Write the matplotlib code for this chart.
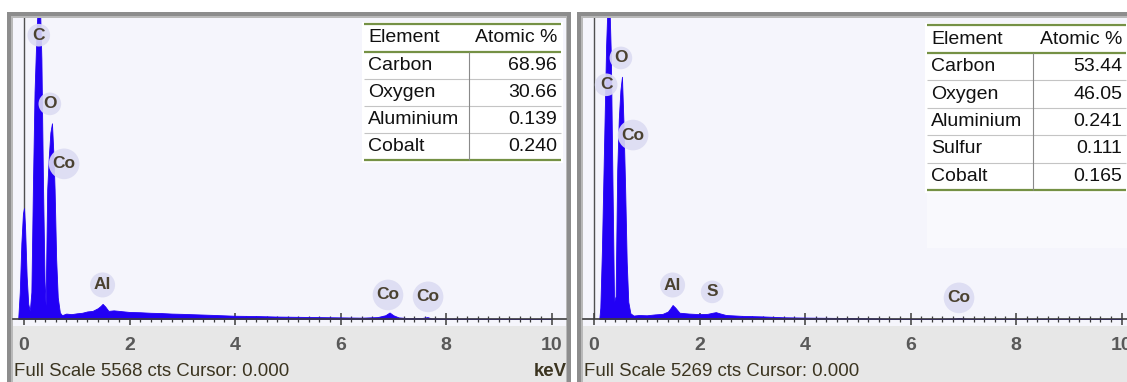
import matplotlib
matplotlib.use("Agg")
import matplotlib.pyplot as plt
from matplotlib.patches import Rectangle
from matplotlib.lines import Line2D

# ---------------- data ----------------
# Spectrum 1 (Full Scale 5568 cts): energy in keV, counts
energy_1 = [-0.11, -0.08, -0.05, -0.02, 0.00, 0.02, 0.05, 0.08, 0.11,
            0.14, 0.17, 0.20, 0.24, 0.27, 0.30, 0.33, 0.36, 0.39, 0.41,
            0.44, 0.47, 0.50, 0.53, 0.56, 0.58, 0.61, 0.64, 0.68,
            0.72, 0.80, 0.90, 1.00, 1.10, 1.20, 1.30, 1.40, 1.45, 1.49, 1.54, 1.60,
            1.70, 1.80, 1.90, 2.00, 2.20, 2.40, 2.60, 2.80, 3.00, 3.30, 3.60,
            4.00, 4.40, 4.80, 5.20, 5.60, 6.00, 6.40, 6.70, 6.85, 6.93, 7.00,
            7.10, 7.30, 7.55, 7.65, 7.72, 8.00, 9.00, 10.0]
counts_1 = [0, 500, 1400, 1950, 2050, 1700, 800, 280, 150,
            500, 2500, 4200, 5400, 5900, 5900, 4800, 2500, 700, 250,
            2400, 3000, 3450, 3620, 3000, 2400, 1100, 400, 120,
            70, 100, 90, 105, 115, 140, 150, 200, 240, 280, 230, 150,
            160, 150, 140, 130, 125, 115, 110, 100, 95, 85, 75,
            60, 55, 45, 40, 35, 30, 25, 35, 70, 120, 70,
            30, 15, 20, 35, 12, 8, 4, 0]

# Spectrum 2 (Full Scale 5269 cts)
energy_2 = [0.10, 0.12, 0.15, 0.19, 0.23, 0.26, 0.29, 0.32, 0.35, 0.38,
            0.41, 0.44, 0.47, 0.50, 0.53, 0.56, 0.59, 0.62, 0.65, 0.69,
            0.75, 0.85, 1.00, 1.15, 1.30, 1.40, 1.45, 1.49, 1.54, 1.62,
            1.80, 2.00, 2.15, 2.25, 2.31, 2.38, 2.50, 2.80, 3.20, 3.60,
            4.00, 4.50, 5.00, 5.40, 5.60, 6.00, 6.50, 6.85, 6.93, 7.05, 7.30, 10.0]
counts_2 = [0, 200, 1200, 3000, 4800, 5600, 5600, 4600, 2400, 300,
            400, 2600, 3500, 4000, 4240, 3400, 2300, 1000, 300, 100,
            60, 70, 65, 80, 90, 130, 190, 245, 200, 110,
            95, 85, 90, 110, 120, 100, 70, 55, 45, 30,
            25, 20, 15, 10, 4, 2, 2, 10, 18, 5, 0, 0]

full_scale = [5568, 5269]

# Peak identification labels: (element, energy keV)
labels_1 = [("C", 0.28), ("O", 0.49), ("Co", 0.76), ("Al", 1.49), ("Co", 6.90), ("Co", 7.66)]
labels_2 = [("O", 0.51), ("C", 0.23), ("Co", 0.74), ("Al", 1.49), ("S", 2.24), ("Co", 6.92)]

# Quantification tables
elements_1 = ["Carbon", "Oxygen", "Aluminium", "Cobalt"]
atomic_1 = ["68.96", "30.66", "0.139", "0.240"]
elements_2 = ["Carbon", "Oxygen", "Aluminium", "Sulfur", "Cobalt"]
atomic_2 = ["53.44", "46.05", "0.241", "0.111", "0.165"]

tick_values = [0, 2, 4, 6, 8, 10]

# ---------------- layout helpers (pixels) ----------------
W, H = 1127, 382
fig = plt.figure(figsize=(W / 100, H / 100), dpi=100)
fig.patch.set_facecolor("white")
FONT = "Liberation Sans"


def fx(px):
    return px / W


def fy(py):
    return 1 - py / H


def frect(x0, y0, x1, y1, color, z=0):
    fig.patches.append(Rectangle((fx(x0), fy(y1)), fx(x1) - fx(x0), fy(y0) - fy(y1),
                                 transform=fig.transFigure, facecolor=color,
                                 edgecolor="none", zorder=z))


def fline(x0, y0, x1, y1, color, lw, z=5):
    fig.lines.append(Line2D([fx(x0), fx(x1)], [fy(y0), fy(y1)], transform=fig.transFigure,
                            color=color, lw=lw, zorder=z, solid_capstyle="butt"))


PX_PER_KEV = 52.75
BASE_Y = 319
TOP_Y = 18
BLUE = "#2200f5"
HALO = "#dcdcf2"
LABEL_COLOR = "#4a4130"
GREEN = "#759145"


def panel(left, right, zero_px, energy, counts, fs, labels, label_y, keV_label):
    # frame and backgrounds
    frect(left - 6, 12, right + 5, H, "#8d8d8d", 0)
    frect(left - 2, 16, right + 1, H, "#b9b9b9", 0.1)
    frect(left, TOP_Y, right, H, "#f5f5fc", 0.2)
    frect(left, 326, right, H, "#e7e7e7", 0.3)

    ax = fig.add_axes([fx(left), fy(BASE_Y), (right - left) / W, (BASE_Y - TOP_Y) / H])
    ax.set_zorder(1)
    ax.patch.set_alpha(0)
    ax.set_xlim((left - zero_px) / PX_PER_KEV, (right - zero_px) / PX_PER_KEV)
    ax.set_ylim(0, fs)
    ax.fill_between(energy, counts, 0, color=BLUE, lw=0.6, edgecolor=BLUE, zorder=2)
    ax.axvline(0, color="#505050", lw=1.0, zorder=1)

    for s in ("top", "left", "right"):
        ax.spines[s].set_visible(False)
    ax.spines["bottom"].set_color("#3c3c3c")
    ax.spines["bottom"].set_linewidth(1.2)
    ax.set_yticks([])
    ax.set_xticks(tick_values)
    ax.set_xticks([i * 0.2 for i in range(0, 51)], minor=True)
    ax.tick_params(axis="x", which="major", direction="inout", length=8, width=1.1,
                   color="#3c3c3c", pad=9, labelsize=14, labelcolor="#595959")
    ax.tick_params(axis="x", which="minor", direction="inout", length=5, width=0.9,
                   color="#3c3c3c")
    for t in ax.get_xticklabels():
        t.set_fontfamily(FONT)
        t.set_fontweight("bold")

    for (txt, e), yy in zip(labels, label_y):
        ax.text(e, yy, txt, ha="center", va="center", fontsize=12.5, family=FONT,
                color=LABEL_COLOR, zorder=6, weight="bold",
                bbox=dict(boxstyle="circle,pad=0.22", fc=HALO, ec="none", alpha=0.9))

    fig.text(fx(left + 1), fy(371), "Full Scale %d cts Cursor: 0.000" % fs,
             ha="left", va="center", fontsize=13.4, family=FONT, color="#3b3420")
    if keV_label:
        fig.text(fx(right + 1), fy(371), "keV", ha="right", va="center",
                 fontsize=13.4, family=FONT, color="#3b3420", weight="bold")
    return ax


def table(x0, x1, xdiv, y_top, y_head, row_h, elements, values):
    n = len(elements)
    y_bot = y_head + n * row_h
    frect(x0 - 2, y_top - 2, x1 + 2, y_bot + 3, "white", 3)
    fline(x0, y_top, x1, y_top, GREEN, 1.6)
    fline(x0, y_head, x1, y_head, GREEN, 1.6)
    fline(x0, y_bot, x1, y_bot, GREEN, 1.6)
    for i in range(1, n):
        yy = y_head + i * row_h
        fline(x0, yy, x1, yy, "#c4c4c4", 0.8)
    fline(xdiv, y_head, xdiv, y_bot, "#8a8a8a", 0.8)
    fig.text(fx(x0 + 4), fy((y_top + y_head) / 2), "Element", ha="left", va="center",
             fontsize=14, family=FONT, color="#111111", zorder=6)
    fig.text(fx(x1 - 4), fy((y_top + y_head) / 2), "Atomic %", ha="right", va="center",
             fontsize=14, family=FONT, color="#111111", zorder=6)
    for i, (el, v) in enumerate(zip(elements, values)):
        yc = y_head + (i + 0.5) * row_h
        fig.text(fx(x0 + 4), fy(yc), el, ha="left", va="center", fontsize=14,
                 family=FONT, color="#111111", zorder=6)
        fig.text(fx(x1 - 4), fy(yc), v, ha="right", va="center", fontsize=14,
                 family=FONT, color="#111111", zorder=6)


label_y_1 = [5250, 3980, 2870, 630, 445, 410]
label_y_2 = [4570, 4100, 3220, 595, 475, 370]

panel(13, 566, 24, energy_1, counts_1, full_scale[0], labels_1, label_y_1, True)
panel(583, 1135, 594, energy_2, counts_2, full_scale[1], labels_2, label_y_2, False)

table(364, 561, 469, 24, 52, 27, elements_1, atomic_1)
frect(927, 193, 1127, 248, "#f9f9fd", 0.25)
table(927, 1126, 1033, 25, 53, 27.4, elements_2, atomic_2)

fig.savefig("out.png", dpi=100)
